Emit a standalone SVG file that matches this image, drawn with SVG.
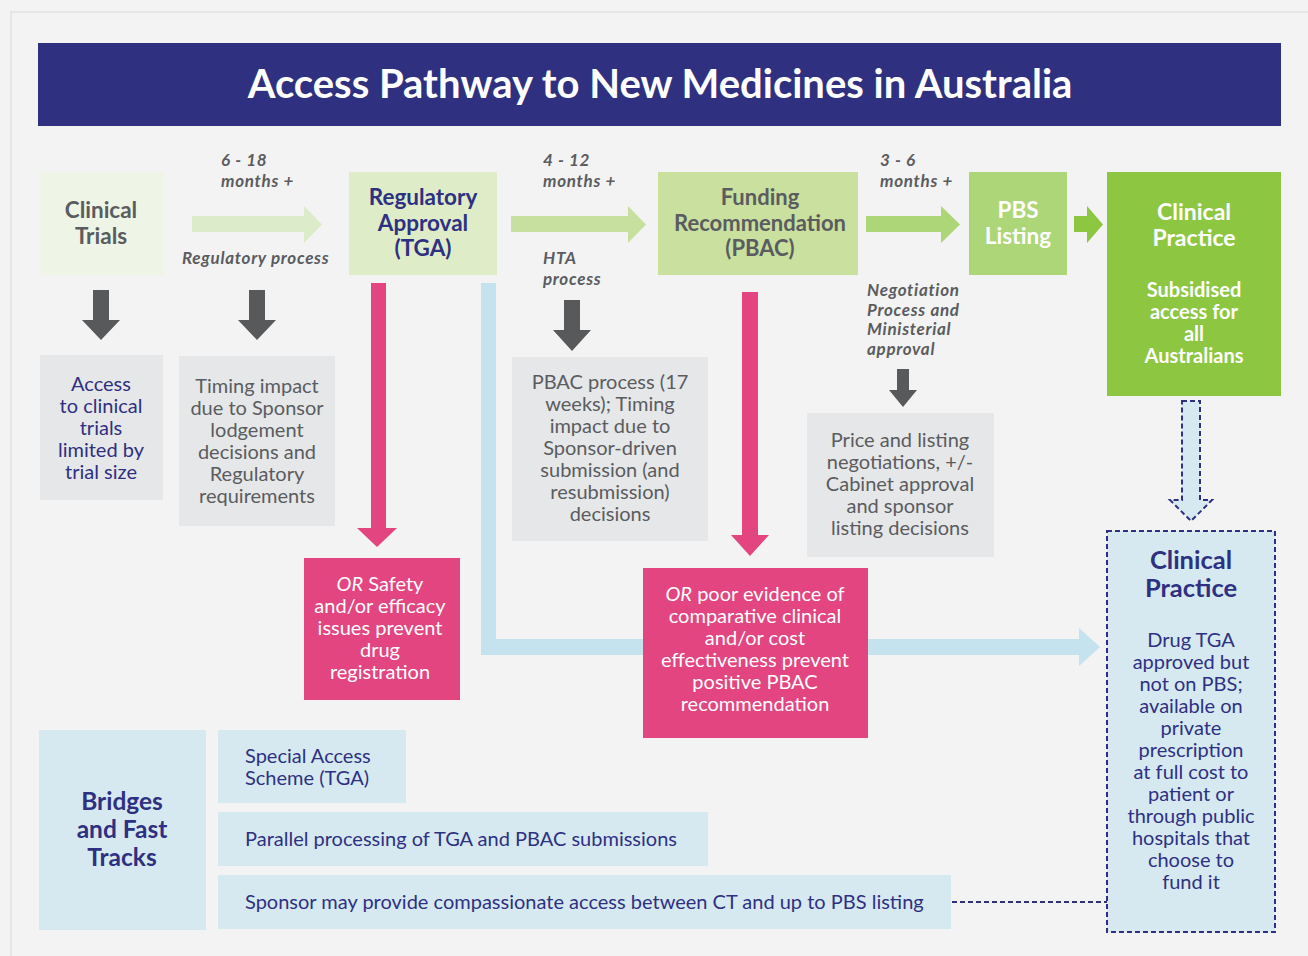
<svg xmlns="http://www.w3.org/2000/svg" width="1308" height="956" viewBox="0 0 1308 956">
  <defs>
    <style>
      text { font-family: Lato, "Open Sans", "Liberation Sans", sans-serif; text-anchor: middle; }
      .title { font-size: 40px; font-weight: 700; fill: #ffffff; }
      .head { font-size: 22.5px; font-weight: 700; }
      .navy { fill: #2e3081; }
      .grey { fill: #5a5c60; }
      .white { fill: #ffffff; }
      .body { font-size: 20px; }
      .note { font-size: 17px; font-style: italic; font-weight: 700; fill: #5a5c60; text-anchor: start; letter-spacing: 0.7px; }
      .left { text-anchor: start; }
      .dark { fill: #58595b; }
      .pink { fill: #e2457f; }
      .dash { stroke: #2e3081; stroke-width: 2; stroke-dasharray: 5 3; }
    </style>
  </defs>

  <!-- page -->
  <rect x="0" y="0" width="1308" height="956" fill="#f3f3f3"/>
  <rect x="11" y="12" width="1310" height="960" fill="none" stroke="#e6e6e6" stroke-width="2"/>

  <!-- title bar -->
  <g id="title">
    <rect x="38" y="43" width="1243" height="83" fill="#2f3180"/>
    <text class="title" x="660" y="98">Access Pathway to New Medicines in Australia</text>
  </g>

  <!-- connectors -->
  <g id="connectors">
    <!-- stage arrows -->
    <polygon points="192,216 304,216 304,206 322,224.5 304,243 304,232 192,232" fill="#dcebc9"/>
    <polygon points="511,216 628,216 628,206 646,224.5 628,243 628,232 511,232" fill="#c8e09f"/>
    <polygon points="866,216 941,216 941,206 960,224.5 941,243 941,232 866,232" fill="#add678"/>
    <polygon points="1074,216 1087,216 1087,206 1103,224.5 1087,243 1087,232 1074,232" fill="#8dc641"/>

    <!-- down arrows to impact boxes -->
    <polygon points="93,290 109,290 109,320 120,320 101,340 82,320 93,320" class="dark"/>
    <polygon points="249,290 265,290 265,320 276,320 257,340 238,320 249,320" class="dark"/>
    <polygon points="564,300 580,300 580,330 591,330 572,351 553,330 564,330" class="dark"/>
    <polygon points="897,369 909,369 909,390 917,390 903,407 889,390 897,390" class="dark"/>

    <!-- blue L path to non-PBS practice -->
    <polygon points="481,283 496,283 496,639 1079,639 1079,628 1100,647 1079,666 1079,655 481,655" fill="#c5e2ef"/>

    <!-- pink failure arrows -->
    <polygon points="371,283 386,283 386,528 397,528 377,547 357,528 371,528" class="pink"/>
    <polygon points="742,292 758,292 758,535 769,535 750,556 731,535 742,535" class="pink"/>

    <!-- dashed arrow between practice boxes -->
    <polygon points="1182,401 1200,401 1200,500 1212,500 1191,521 1170,500 1182,500" fill="#d6e9f1" class="dash"/>

    <!-- dotted link from compassionate access -->
    <line x1="952" y1="902" x2="1107" y2="902" class="dash"/>
  </g>

  <!-- stage labels -->
  <g id="labels">
    <text class="note" x="221" y="166">6 - 18</text>
    <text class="note" x="221" y="187">months +</text>
    <text class="note" x="182" y="264">Regulatory process</text>
    <text class="note" x="543" y="166">4 - 12</text>
    <text class="note" x="543" y="187">months +</text>
    <text class="note" x="543" y="264">HTA</text>
    <text class="note" x="543" y="285">process</text>
    <text class="note" x="880" y="166">3 - 6</text>
    <text class="note" x="880" y="187">months +</text>
    <text class="note" x="867" y="296">Negotiation</text>
    <text class="note" x="867" y="316">Process and</text>
    <text class="note" x="867" y="335">Ministerial</text>
    <text class="note" x="867" y="355">approval</text>
  </g>

  <g id="clinical-trials">
    <rect x="40" y="172" width="123" height="103" fill="#eef5e6"/>
    <text class="head grey" x="101" y="218">Clinical</text>
    <text class="head grey" x="101" y="244">Trials</text>
  </g>

  <g id="regulatory-approval">
    <rect x="349" y="172" width="148" height="103" fill="#deecc8"/>
    <text class="head navy" x="423" y="205">Regulatory</text>
    <text class="head navy" x="423" y="231">Approval</text>
    <text class="head navy" x="423" y="256">(TGA)</text>
  </g>

  <g id="funding-recommendation">
    <rect x="658" y="172" width="200" height="103" fill="#c9e09e"/>
    <text class="grey" x="760" y="205" font-size="22" font-weight="700">Funding</text>
    <text class="grey" x="760" y="231" font-size="22" font-weight="700">Recommendation</text>
    <text class="grey" x="760" y="256" font-size="22" font-weight="700">(PBAC)</text>
  </g>

  <g id="pbs-listing">
    <rect x="969" y="172" width="98" height="103" fill="#add678"/>
    <text class="head white" x="1018" y="218">PBS</text>
    <text class="head white" x="1018" y="244">Listing</text>
  </g>

  <g id="clinical-practice-pbs">
    <rect x="1107" y="172" width="174" height="224" fill="#8dc641"/>
    <text class="white" x="1194" y="220" font-size="23" font-weight="700">Clinical</text>
    <text class="white" x="1194" y="246" font-size="23" font-weight="700">Practice</text>
    <text class="white" x="1194" y="297" font-size="20" font-weight="700">Subsidised</text>
    <text class="white" x="1194" y="319" font-size="20" font-weight="700">access for</text>
    <text class="white" x="1194" y="341" font-size="20" font-weight="700">all</text>
    <text class="white" x="1194" y="363" font-size="20" font-weight="700">Australians</text>
  </g>

  <g id="trial-access">
    <rect x="40" y="355" width="123" height="145" fill="#e6e7e8"/>
    <text class="body navy" x="101" y="391">Access</text>
    <text class="body navy" x="101" y="413">to clinical</text>
    <text class="body navy" x="101" y="435">trials</text>
    <text class="body navy" x="101" y="457">limited by</text>
    <text class="body navy" x="101" y="479">trial size</text>
  </g>

  <g id="regulatory-timing">
    <rect x="179" y="356" width="156" height="170" fill="#e6e7e8"/>
    <text class="body grey" x="257" y="393">Timing impact</text>
    <text class="body grey" x="257" y="415">due to Sponsor</text>
    <text class="body grey" x="257" y="437">lodgement</text>
    <text class="body grey" x="257" y="459">decisions and</text>
    <text class="body grey" x="257" y="481">Regulatory</text>
    <text class="body grey" x="257" y="503">requirements</text>
  </g>

  <g id="pbac-timing">
    <rect x="512" y="357" width="196" height="184" fill="#e6e7e8"/>
    <text class="body grey" x="610" y="389">PBAC process (17</text>
    <text class="body grey" x="610" y="411">weeks); Timing</text>
    <text class="body grey" x="610" y="433">impact due to</text>
    <text class="body grey" x="610" y="455">Sponsor-driven</text>
    <text class="body grey" x="610" y="477">submission (and</text>
    <text class="body grey" x="610" y="499">resubmission)</text>
    <text class="body grey" x="610" y="521">decisions</text>
  </g>

  <g id="listing-negotiation">
    <rect x="807" y="413" width="187" height="144" fill="#e6e7e8"/>
    <text class="body grey" x="900" y="447">Price and listing</text>
    <text class="body grey" x="900" y="469">negotiations, +/-</text>
    <text class="body grey" x="900" y="491">Cabinet approval</text>
    <text class="body grey" x="900" y="513">and sponsor</text>
    <text class="body grey" x="900" y="535">listing decisions</text>
  </g>

  <g id="registration-fail">
    <rect x="304" y="558" width="156" height="142" fill="#e2457f"/>
    <text class="body white" x="380" y="591"><tspan font-style="italic">OR</tspan> Safety</text>
    <text class="body white" x="380" y="613">and/or efficacy</text>
    <text class="body white" x="380" y="635">issues prevent</text>
    <text class="body white" x="380" y="657">drug</text>
    <text class="body white" x="380" y="679">registration</text>
  </g>

  <g id="pbac-fail">
    <rect x="643" y="568" width="225" height="170" fill="#e2457f"/>
    <text class="body white" x="755" y="601"><tspan font-style="italic">OR</tspan> poor evidence of</text>
    <text class="body white" x="755" y="623">comparative clinical</text>
    <text class="body white" x="755" y="645">and/or cost</text>
    <text class="body white" x="755" y="667">effectiveness prevent</text>
    <text class="body white" x="755" y="689">positive PBAC</text>
    <text class="body white" x="755" y="711">recommendation</text>
  </g>

  <g id="clinical-practice-private">
    <rect x="1107" y="531" width="168" height="401" fill="#d6e9f1" class="dash"/>
    <text class="navy" x="1191" y="569" font-size="25.5" font-weight="700">Clinical</text>
    <text class="navy" x="1191" y="597" font-size="25.5" font-weight="700">Practice</text>
    <text class="body navy" x="1191" y="647">Drug TGA</text>
    <text class="body navy" x="1191" y="669">approved but</text>
    <text class="body navy" x="1191" y="691">not on PBS;</text>
    <text class="body navy" x="1191" y="713">available on</text>
    <text class="body navy" x="1191" y="735">private</text>
    <text class="body navy" x="1191" y="757">prescription</text>
    <text class="body navy" x="1191" y="779">at full cost to</text>
    <text class="body navy" x="1191" y="801">patient or</text>
    <text class="body navy" x="1191" y="823">through public</text>
    <text class="body navy" x="1191" y="845">hospitals that</text>
    <text class="body navy" x="1191" y="867">choose to</text>
    <text class="body navy" x="1191" y="889">fund it</text>
  </g>

  <g id="bridges">
    <rect x="39" y="730" width="167" height="200" fill="#d6e9f1"/>
    <text class="navy" x="122" y="810" font-size="24.5" font-weight="700">Bridges</text>
    <text class="navy" x="122" y="838" font-size="24.5" font-weight="700">and Fast</text>
    <text class="navy" x="122" y="866" font-size="24.5" font-weight="700">Tracks</text>
  </g>

  <g id="special-access">
    <rect x="218" y="730" width="188" height="73" fill="#d6e9f1"/>
    <text class="body navy left" x="245" y="763">Special Access</text>
    <text class="body navy left" x="245" y="785">Scheme (TGA)</text>
  </g>

  <g id="parallel-processing">
    <rect x="218" y="812" width="490" height="54" fill="#d6e9f1"/>
    <text class="body navy left" x="245" y="846">Parallel processing of TGA and PBAC submissions</text>
  </g>

  <g id="compassionate-access">
    <rect x="218" y="875" width="733" height="54" fill="#d6e9f1"/>
    <text class="body navy left" x="245" y="909">Sponsor may provide compassionate access between CT and up to PBS listing</text>
  </g>
</svg>
